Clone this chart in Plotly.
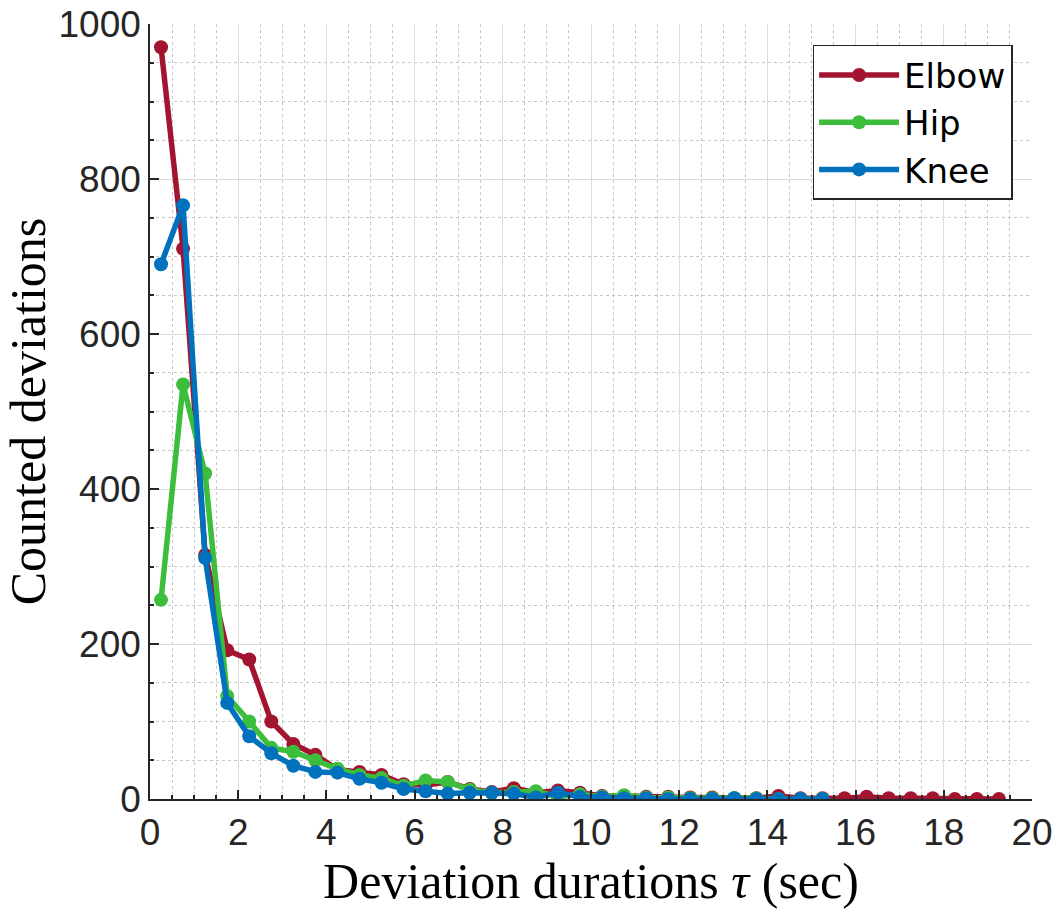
import plotly.graph_objects as go

x_elbow = [0.25, 0.75, 1.25, 1.75, 2.25, 2.75, 3.25, 3.75, 4.25, 4.75, 5.25, 5.75, 6.25, 6.75,
           7.25, 7.75, 8.25, 8.75, 9.25, 9.75, 10.25, 10.75, 11.25, 11.75, 12.25, 12.75, 13.25,
           13.75, 14.25, 14.75, 15.25, 15.75, 16.25, 16.75, 17.25, 17.75, 18.25, 18.75, 19.25]
elbow = [970, 710, 315, 192, 180, 100, 71, 57, 38, 35, 31, 19, 18, 22, 13, 9, 14, 8, 11, 8,
         4, 4, 3, 3, 2, 2, 1, 1, 4, 1, 1, 1, 3, 1, 1, 1, 0, 0, 0]

x_hk = [0.25, 0.75, 1.25, 1.75, 2.25, 2.75, 3.25, 3.75, 4.25, 4.75, 5.25, 5.75, 6.25, 6.75,
        7.25, 7.75, 8.25, 8.75, 9.25, 9.75, 10.25, 10.75, 11.25, 11.75, 12.25, 12.75, 13.25,
        13.75, 14.25, 14.75, 15.25]
hip = [257, 535, 420, 133, 100, 66, 61, 50, 39, 31, 27, 17, 24, 22, 12, 8, 9, 10, 3, 6,
       3, 5, 2, 2, 1, 1, 1, 1, 0, 0, 0]
knee = [690, 766, 311, 124, 81, 59, 43, 35, 34, 26, 21, 13, 10, 7, 8, 8, 7, 2, 8, 3,
        2, 1, 1, 0, 0, 0, 1, 0, 0, 0, 0]

series = [("Elbow", x_elbow, elbow, "#A2142F"),
          ("Hip", x_hk, hip, "#3CBE3C"),
          ("Knee", x_hk, knee, "#0072BD")]

fig = go.Figure()
for name, xs, ys, col in series:
    fig.add_trace(go.Scatter(x=xs, y=ys, name=name, mode="lines+markers",
                             line=dict(color=col, width=5.5),
                             marker=dict(color=col, size=14)))

tickfont = dict(family="Liberation Sans", size=37, color="#262626")
axis_common = dict(showline=True, linecolor="#262626", linewidth=1.5,
                   ticks="inside", ticklen=9, tickcolor="#262626", tickwidth=1.5,
                   showgrid=True, gridcolor="#dcdcdc", gridwidth=1.2,
                   zeroline=False, tickfont=tickfont, mirror=False, automargin=False)

fig.update_xaxes(range=[0, 20], dtick=2, tick0=0,
                 title=dict(text="Deviation durations <i>τ</i> (sec)",
                            font=dict(family="Liberation Serif", size=50, color="black"),
                            standoff=8),
                 minor=dict(dtick=0.5, ticks="inside", ticklen=4, tickcolor="#262626",
                            showgrid=True, gridcolor="#c8c8c8", griddash="dot", gridwidth=1.2),
                 **axis_common)
fig.update_yaxes(range=[0, 1000], dtick=200, tick0=0,
                 title=dict(text="Counted deviations",
                            font=dict(family="Liberation Serif", size=50, color="black"),
                            standoff=10),
                 minor=dict(dtick=50, ticks="inside", ticklen=4, tickcolor="#262626",
                            showgrid=True, gridcolor="#c8c8c8", griddash="dot", gridwidth=1.2),
                 **axis_common)

fig.update_layout(width=1055, height=917,
                  margin=dict(l=150, r=23, t=24, b=118),
                  plot_bgcolor="white", paper_bgcolor="white",
                  legend=dict(x=0.978, y=0.973, xanchor="right", yanchor="top",
                              bgcolor="white", bordercolor="#262626", borderwidth=1.5,
                              font=dict(family="DejaVu Sans", size=34, color="black"),
                              itemwidth=80, tracegroupgap=0))

fig.write_html("out.html")
